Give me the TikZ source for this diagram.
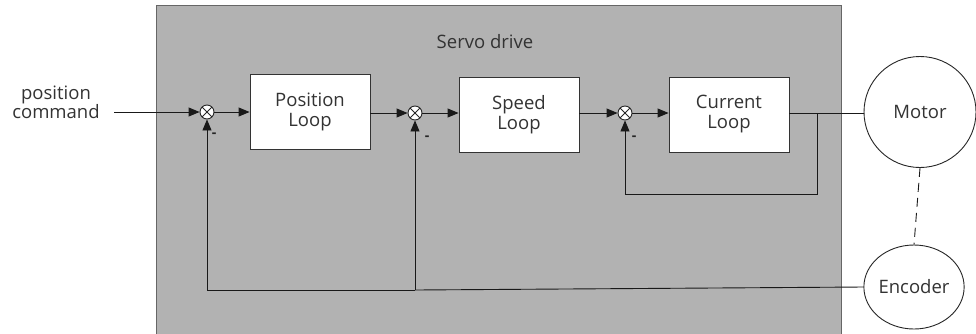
\documentclass[tikz,border=0pt]{standalone}
\usepackage{fontspec}
\setmainfont{Open Sans}
\usetikzlibrary{arrows.meta,shapes.geometric}

\begin{document}
\begin{tikzpicture}[x=1pt,y=-1pt,font=\fontsize{18.5}{22}\selectfont,line width=0.9pt]
        % Define styles for nodes and edges
        \tikzstyle{loopbox}=[rectangle, draw=black!80, fill=white, minimum width=120pt, minimum height=75pt, align=center, text=black!80]
        \tikzstyle{sumnode}=[circle, draw=black!85, fill=white, minimum size=14pt, inner sep=0pt,
            path picture={\draw[line width=0.8pt] (path picture bounding box.north west) -- (path picture bounding box.south east)
                (path picture bounding box.north east) -- (path picture bounding box.south west);}]
        \tikzstyle{device}=[ellipse, draw=black!85, fill=white, inner sep=0pt, text=black!80]
        \tikzstyle{signal}=[-{Triangle[length=11pt,width=9pt]}, black!90]

        \useasboundingbox (0,0) rectangle (976,333);

        % Drive housing
        \fill[fill=black!30, draw=black!60] (156,5) rectangle (841,340);
        \node[text=black!80] (drive) at (485,42) {Servo drive};

        % Define blocks
        \node[text=black!80, align=center] (cmd) at (56,102) {position\\[-3pt]command};
        \coordinate (in) at (114,112);
        \node[sumnode] (s1) at (207,112) {};
        \node[loopbox] (pos) at (310,112) {Position\\[-2pt]Loop};
        \node[sumnode] (s2) at (415,113) {};
        \node[loopbox] (spd) at (519,114.5) {Speed\\[-2pt]Loop};
        \node[sumnode] (s3) at (625,113) {};
        \node[loopbox] (cur) at (729,114.5) {Current\\[-2pt]Loop};
        \node[device, minimum width=112pt, minimum height=111pt] (motor) at (920,112) {Motor};
        \node[device, minimum width=99pt, minimum height=84pt] (enc) at (914,287) {Encoder};

        % Forward path
        \draw[signal] (in) -- (s1);
        \draw[signal] (s1) -- (pos);
        \draw[signal] (pos.east |- s2) -- (s2);
        \draw[signal] (s2) -- (s2 -| spd.west);
        \draw[signal] (spd.east |- s3) -- (s3);
        \draw[signal] (s3) -- (s3 -| cur.west);
        \draw[black!90] (cur.east |- s3) -- (s3 -| motor.west);

        % Current feedback
        \coordinate (tap) at (817,113);
        \draw[signal] (tap) -- (817,194) -| (s3);

        % Encoder feedback
        \coordinate (fb) at (415,290);
        \draw[black!90] (enc.west) -- (fb);
        \draw[signal] (fb) -- (s2);
        \draw[signal] (fb) -| (s1);

        % Motor shaft to encoder
        \draw[dashed, dash pattern=on 9pt off 6pt, black!90] (motor.south) -- (enc.north);

        % Minus signs
        \node[font=\bfseries\fontsize{14}{14}\selectfont, text=black!85] (m1) at (214,135) {-};
        \node[font=\bfseries\fontsize{14}{14}\selectfont, text=black!85] (m2) at (427,138) {-};
        \node[font=\bfseries\fontsize{14}{14}\selectfont, text=black!85] (m3) at (634,138) {-};

      \end{tikzpicture}
\end{document}
